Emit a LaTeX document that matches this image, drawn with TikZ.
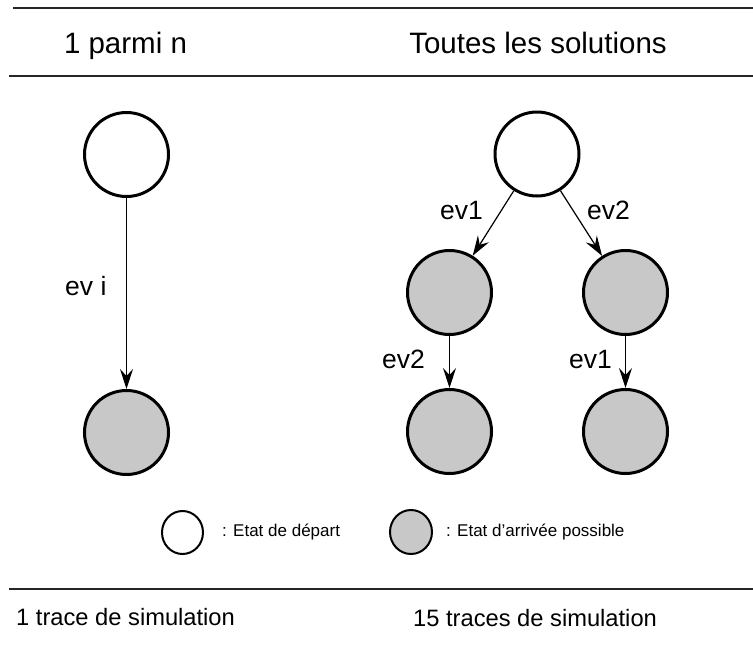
\documentclass[tikz,border=0pt]{standalone}
\usepackage{fontspec}
\setmainfont{Liberation Sans}
\usetikzlibrary{arrows.meta,shapes.geometric}
\definecolor{stategray}{RGB}{200,200,200}
\tikzset{
  st/.style={circle, draw=black, line width=3pt, minimum size=84pt, inner sep=0pt},
  startst/.style={st, fill=white},
  endst/.style={st, fill=stategray},
  conn/.style={line width=1.2pt, -{Stealth[length=20pt,width=13pt,inset=7pt]}},
  rule/.style={line width=2pt, draw=black!85},
  lbl/.style={inner sep=0pt, anchor=base west, font=\fontsize{26.5}{30}\selectfont},
  title/.style={inner sep=0pt, anchor=base, font=\fontsize{29.5}{34}\selectfont},
  foot/.style={inner sep=0pt, anchor=base west, font=\fontsize{23.7}{28}\selectfont},
  legtxt/.style={inner sep=0pt, anchor=base west, font=\fontsize{17}{20}\selectfont},
  legst/.style={ellipse, draw=black, line width=2pt, inner sep=0pt}
}
\begin{document}
\begin{tikzpicture}[x=1pt,y=-1pt]
\useasboundingbox (0,0) rectangle (753,651);
% rules
\coordinate (t1) at (13,8);   \coordinate (t2) at (753,8);
\coordinate (h1) at (9,76);   \coordinate (h2) at (753,76);
\coordinate (b1) at (9,589);  \coordinate (b2) at (753,589);
\draw[rule] (t1) -- (t2);
\draw[rule] (h1) -- (h2);
\draw[rule] (b1) -- (b2);
% titles
\node[title] (tl) at (125.5,53) {1 parmi n};
\node[title] (tr) at (538,53) {Toutes les solutions};
% left tree
\node[startst] (L0) at (126.5,154.5) {};
\node[endst] (L1) at (126.5,432.5) {};
\draw[conn] (L0) -- (L1);
\node[lbl] (lei) at (65,295) {ev i};
% right tree
\node[startst] (R0) at (537,154) {};
\node[endst] (R1) at (449.5,292.5) {};
\node[endst] (R2) at (625.5,292.5) {};
\node[endst] (R3) at (449.5,431.5) {};
\node[endst] (R4) at (625.5,431.5) {};
\draw[conn] (R0) -- (R1);
\draw[conn] (R0) -- (R2);
\draw[conn] (R1) -- (R3);
\draw[conn] (R2) -- (R4);
\node[lbl] (l1) at (440,219) {ev1};
\node[lbl] (l2) at (587,219) {ev2};
\node[lbl] (l3) at (382,368) {ev2};
\node[lbl] (l4) at (569,368) {ev1};
% legend
\node[legst, fill=white, minimum width=41pt, minimum height=43pt] (g1) at (182.5,532.5) {};
\node[legtxt] (g1t) at (222,536) {: Etat de départ};
\node[legst, fill=stategray, minimum width=42pt, minimum height=44pt] (g2) at (411,532) {};
\node[legtxt] (g2t) at (446,536) {: Etat d'arrivée possible};
% footer
\node[foot] (f1) at (16,625) {1 trace de simulation};
\node[foot] (f2) at (413,626) {15 traces de simulation};
\end{tikzpicture}
\end{document}
